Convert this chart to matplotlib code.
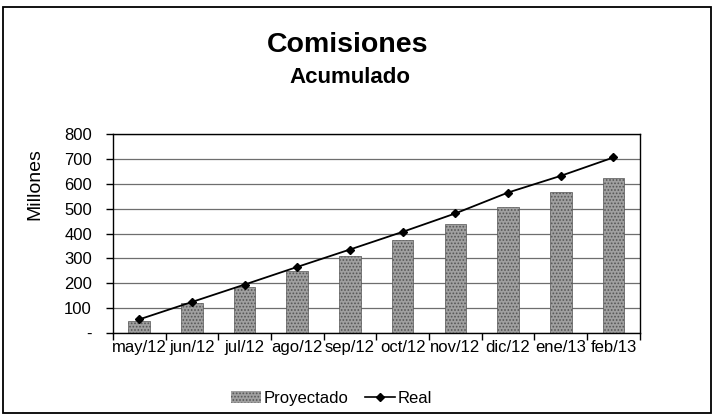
import numpy as np
import matplotlib
matplotlib.use('Agg')
import matplotlib.pyplot as plt
from matplotlib.patches import Patch, Rectangle
from matplotlib.lines import Line2D

plt.rcParams['font.family'] = ['Liberation Sans', 'DejaVu Sans']
plt.rcParams['hatch.linewidth'] = 0.8

months = ['may/12', 'jun/12', 'jul/12', 'ago/12', 'sep/12',
          'oct/12', 'nov/12', 'dic/12', 'ene/13', 'feb/13']
proyectado = [50, 120, 185, 248, 309, 376, 437, 508, 567, 624]
real = [55, 125, 195, 266, 336, 407, 481, 565, 632, 706]
yticks = [0, 100, 200, 300, 400, 500, 600, 700, 800]
ytick_labels = ['-', '100', '200', '300', '400', '500', '600', '700', '800']

fig = plt.figure(figsize=(7.14, 4.19), dpi=100)
ax = fig.add_axes([0.158, 0.205, 0.738, 0.475])

x = np.arange(len(months))
ax.bar(x, proyectado, width=0.41, facecolor='#a0a0a0', edgecolor='#555555',
       hatch='.....', linewidth=0.5, zorder=2)
ax.plot(x, real, '-', color='black', linewidth=1.3, marker='D', markersize=4,
        zorder=3)

ax.set_xlim(-0.5, len(months) - 0.5)
ax.set_ylim(0, 800)
ax.set_yticks(yticks)
ax.set_yticklabels(ytick_labels)
ax.set_xticks(x)
ax.set_xticklabels(months)
ax.set_xticks(np.arange(-0.5, len(months)), minor=True)
ax.tick_params(axis='x', which='major', length=0, pad=5, labelsize=12)
ax.tick_params(axis='x', which='minor', length=5, direction='out', width=1)
ax.tick_params(axis='y', length=5, direction='out', width=1, pad=10, labelsize=12)
ax.grid(axis='y', color='#6e6e6e', linewidth=0.9, zorder=0)
ax.set_axisbelow(True)
for s in ax.spines.values():
    s.set_color('black')
    s.set_linewidth(1.0)

fig.text(0.049, 0.561, 'Millones', rotation=90, ha='center', va='center', fontsize=14)
fig.text(0.487, 0.876, 'Comisiones', ha='center', va='baseline', fontsize=20.5, fontweight='bold')
fig.text(0.49, 0.802, 'Acumulado', ha='center', va='baseline', fontsize=16, fontweight='bold')

handles = [Patch(facecolor='#a0a0a0', edgecolor='#555555', hatch='.....', linewidth=0),
           Line2D([0], [0], color='black', linewidth=1.2, marker='D', markersize=4)]
fig.legend(handles, ['Proyectado', 'Real'], loc='center', bbox_to_anchor=(0.464, 0.05),
           ncol=2, frameon=False, fontsize=12, handlelength=1.8, handletextpad=0.15,
           columnspacing=1.0)

fig.patches.append(Rectangle((0.004, 0.015), 0.992, 0.968, transform=fig.transFigure,
                             fill=False, edgecolor='black', linewidth=1.3))

fig.savefig('out.png', dpi=100)
